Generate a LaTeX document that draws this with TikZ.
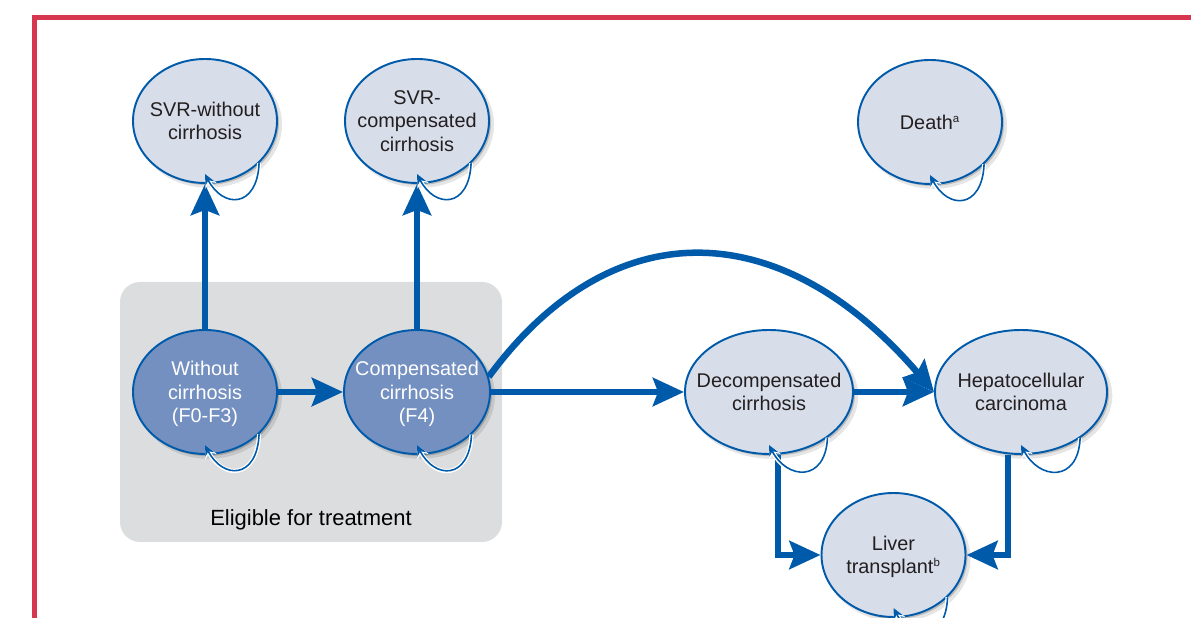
\documentclass[tikz,border=0pt]{standalone}
\usepackage{fontspec}
\setmainfont{Liberation Sans}
\usetikzlibrary{arrows.meta,shadows,shapes.geometric}

\definecolor{flowblue}{HTML}{005AAA}
\definecolor{hellfill}{HTML}{D7DDE9}
\definecolor{dunkelfill}{HTML}{7490C1}
\definecolor{kastengrau}{HTML}{DCDDDF}
\definecolor{rahmenrot}{HTML}{D6374E}
\definecolor{textgrau}{HTML}{231F20}

\newcommand{\hoch}[1]{\textsuperscript{\fontsize{6.5}{7}\selectfont #1}}

\tikzset{
	zustand/.style={ellipse, draw=flowblue, line width=1.1pt, fill=hellfill,
		minimum width=2.88cm, minimum height=2.48cm, inner xsep=-0.4cm, inner ysep=0pt,
		align=center, text=textgrau, font=\fontsize{11.3}{13.2}\selectfont, text depth=-0.17cm,
		general shadow={shadow xshift=0.07cm, shadow yshift=-0.07cm, shadow scale=1.02, fill=black, opacity=0.10},
		general shadow={shadow xshift=0.04cm, shadow yshift=-0.04cm, fill=black, opacity=0.18}},
	behandelbar/.style={zustand, fill=dunkelfill, text=white},
	flow/.style={draw=flowblue, line width=0.13cm, -{Stealth[length=0.62cm, width=0.56cm, inset=0.1cm]}},
	selfloop/.style={draw=flowblue, line width=0.9pt, -{Stealth[length=6pt, width=5.5pt]},
		preaction={draw=white, line width=2.4pt, -{Stealth[length=7.5pt, width=7pt]}}}
}

\begin{document}
\begin{tikzpicture}
		\useasboundingbox (0,0) rectangle (23.82,12.36);
		\clip (0,0) rectangle (23.82,12.36);

		% zeichne Rahmen
		\draw[rahmenrot, line width=0.1cm] (0.69,-1) -- (0.69,12.01) -- (25,12.01);

		% zeichne Kasten
		\fill[kastengrau, rounded corners=0.4cm] (2.40,1.52) rectangle (10.04,6.72);
		\node (kasten) at (6.22,1.96) {\fontsize{12.5}{14}\selectfont Eligible for treatment};

		% zeichne Zustaende
		\node[zustand] (svrnc) at (4.10,9.94) {SVR-without\\cirrhosis};
		\node[zustand] (svrc) at (8.34,9.94) {SVR-\\compensated\\cirrhosis};
		\node[zustand] (death) at (18.60,9.92) {Death\hoch{a}};
		\node[behandelbar] (wc) at (4.10,4.52) {Without\\cirrhosis\\(F0-F3)};
		\node[behandelbar, minimum width=2.92cm] (cc) at (8.34,4.52) {Compensated\\cirrhosis\\(F4)};
		\node[zustand, minimum width=3.36cm] (dc) at (15.38,4.52) {Decompensated\\cirrhosis};
		\node[zustand, minimum width=3.44cm] (hcc) at (20.42,4.52) {Hepatocellular\\carcinoma};
		\node[zustand] (lt) at (17.87,1.26) {Liver\\transplant\hoch{b}};

		% zeichne Uebergaenge
		\draw[flow] (wc) -- (svrnc);
		\draw[flow] (cc) -- (svrc);
		\draw[flow] (wc) -- (cc);
		\draw[flow] (cc.east) -- (dc.west);
		\draw[flow] (dc.east) -- (hcc.west);
		\draw[flow] (cc.12) .. controls +(2.5,3.4) and +(-3.0,3.5) .. (hcc.west);
		\draw[flow] ([xshift=0.18cm]dc.south) |- (lt.west);
		\draw[flow] ([xshift=-0.26cm]hcc.south) |- (lt.east);

		% Schleifen
		\foreach \n in {svrnc,svrc,death,wc,cc,dc,hcc,lt}
			\draw[selfloop] (\n.-38) .. controls +(-0.04,-0.9) and +(0.36,-0.7) .. ([yshift=0.2cm]\n.south);
	\end{tikzpicture}
\end{document}
